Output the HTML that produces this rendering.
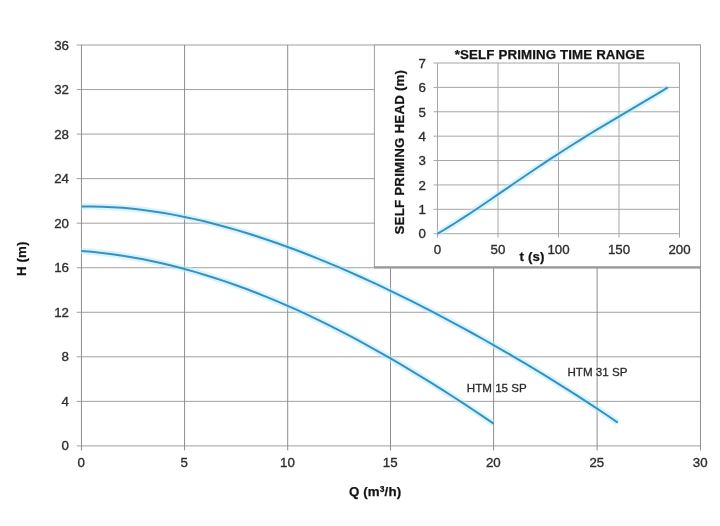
<!DOCTYPE html>
<html lang="en"><head><meta charset="utf-8"><title>Pump curves</title>
<style>html,body{margin:0;padding:0;background:#fff;}body{width:720px;height:526px;overflow:hidden;}svg{display:block;filter:blur(0.45px);}
text{font-family:"Liberation Sans",Arial,sans-serif;fill:#2e2e2e;}
.t{font-size:13.3px;stroke:#2e2e2e;stroke-width:0.35px;} .b{font-size:13.3px;font-weight:bold;letter-spacing:0.13px;fill:#141414;stroke:#141414;stroke-width:0.25px;} .l{font-size:11.6px;fill:#2a2a2a;stroke:#2a2a2a;stroke-width:0.3px;}
.g{stroke:#8e8e8e;stroke-width:1;fill:none;} .halo{stroke:#b8ecff;stroke-opacity:0.55;stroke-width:6.5;fill:none;stroke-linejoin:round;} .c{stroke:#3890c0;stroke-width:2.0;fill:none;stroke-linecap:butt;stroke-linejoin:round;}
</style></head><body>
<svg width="720" height="526" viewBox="0 0 720 526">
<rect x="0" y="0" width="720" height="526" fill="#ffffff"/>
<path class="g" style="stroke:#a0a0a0" d="M76.65 445.90H700.45M76.65 401.36H700.45M76.65 356.81H700.45M76.65 312.27H700.45M76.65 267.72H700.45M76.65 223.18H700.45M76.65 178.64H700.45M76.65 134.09H700.45M76.65 89.55H700.45M76.65 45.00H700.45"/>
<path class="g" d="M81.45 45.00V450.40M184.55 45.00V450.40M287.70 45.00V450.40M390.50 45.00V450.40M493.60 45.00V450.40M597.10 45.00V450.40M700.45 45.00V450.40"/>
<text class="t" x="69.0" y="450.3" text-anchor="end">0</text>
<text class="t" x="69.0" y="405.8" text-anchor="end">4</text>
<text class="t" x="69.0" y="361.3" text-anchor="end">8</text>
<text class="t" x="69.0" y="316.7" text-anchor="end">12</text>
<text class="t" x="69.0" y="272.2" text-anchor="end">16</text>
<text class="t" x="69.0" y="227.6" text-anchor="end">20</text>
<text class="t" x="69.0" y="183.1" text-anchor="end">24</text>
<text class="t" x="69.0" y="138.5" text-anchor="end">28</text>
<text class="t" x="69.0" y="94.0" text-anchor="end">32</text>
<text class="t" x="69.0" y="49.5" text-anchor="end">36</text>
<text class="t" x="81.2" y="466.6" text-anchor="middle">0</text>
<text class="t" x="184.2" y="466.6" text-anchor="middle">5</text>
<text class="t" x="287.4" y="466.6" text-anchor="middle">10</text>
<text class="t" x="390.2" y="466.6" text-anchor="middle">15</text>
<text class="t" x="493.3" y="466.6" text-anchor="middle">20</text>
<text class="t" x="596.8" y="466.6" text-anchor="middle">25</text>
<text class="t" x="700.2" y="466.6" text-anchor="middle">30</text>
<path class="halo" d="M81.45 206.58L91.76 206.51L102.07 206.71L112.38 207.16L122.69 207.87L133.00 208.82L143.31 210.00L153.62 211.41L163.93 213.03L174.24 214.87L184.55 216.91L194.87 219.14L205.18 221.56L215.50 224.17L225.81 226.95L236.12 229.89L246.44 233.00L256.75 236.27L267.07 239.69L277.38 243.25L287.70 246.96L297.98 250.80L308.26 254.78L318.54 258.88L328.82 263.10L339.10 267.45L349.38 271.91L359.66 276.48L369.94 281.16L380.22 285.95L390.50 290.85L400.81 295.84L411.12 300.94L421.43 306.13L431.74 311.42L442.05 316.80L452.36 322.27L462.67 327.84L472.98 333.50L483.29 339.25L493.60 345.10L503.95 351.03L514.30 357.05L524.65 363.17L535.00 369.38L545.35 375.68L555.70 382.08L566.05 388.57L576.40 395.16L586.75 401.85L597.10 408.65L607.44 415.54L617.77 422.55M81.45 250.95L91.76 251.82L102.07 252.91L112.38 254.21L122.69 255.72L133.00 257.43L143.31 259.35L153.62 261.47L163.93 263.79L174.24 266.30L184.55 269.00L194.87 271.89L205.18 274.96L215.50 278.22L225.81 281.65L236.12 285.26L246.44 289.05L256.75 293.00L267.07 297.12L277.38 301.40L287.70 305.84L297.98 310.44L308.26 315.20L318.54 320.10L328.82 325.16L339.10 330.36L349.38 335.70L359.66 341.18L369.94 346.79L380.22 352.54L390.50 358.42L400.81 364.43L411.12 370.56L421.43 376.81L431.74 383.17L442.05 389.65L452.36 396.25L462.67 402.95L472.98 409.75L483.29 416.66L493.60 423.67"/>
<path class="c" d="M81.45 206.58L91.76 206.51L102.07 206.71L112.38 207.16L122.69 207.87L133.00 208.82L143.31 210.00L153.62 211.41L163.93 213.03L174.24 214.87L184.55 216.91L194.87 219.14L205.18 221.56L215.50 224.17L225.81 226.95L236.12 229.89L246.44 233.00L256.75 236.27L267.07 239.69L277.38 243.25L287.70 246.96L297.98 250.80L308.26 254.78L318.54 258.88L328.82 263.10L339.10 267.45L349.38 271.91L359.66 276.48L369.94 281.16L380.22 285.95L390.50 290.85L400.81 295.84L411.12 300.94L421.43 306.13L431.74 311.42L442.05 316.80L452.36 322.27L462.67 327.84L472.98 333.50L483.29 339.25L493.60 345.10L503.95 351.03L514.30 357.05L524.65 363.17L535.00 369.38L545.35 375.68L555.70 382.08L566.05 388.57L576.40 395.16L586.75 401.85L597.10 408.65L607.44 415.54L617.77 422.55M81.45 250.95L91.76 251.82L102.07 252.91L112.38 254.21L122.69 255.72L133.00 257.43L143.31 259.35L153.62 261.47L163.93 263.79L174.24 266.30L184.55 269.00L194.87 271.89L205.18 274.96L215.50 278.22L225.81 281.65L236.12 285.26L246.44 289.05L256.75 293.00L267.07 297.12L277.38 301.40L287.70 305.84L297.98 310.44L308.26 315.20L318.54 320.10L328.82 325.16L339.10 330.36L349.38 335.70L359.66 341.18L369.94 346.79L380.22 352.54L390.50 358.42L400.81 364.43L411.12 370.56L421.43 376.81L431.74 383.17L442.05 389.65L452.36 396.25L462.67 402.95L472.98 409.75L483.29 416.66L493.60 423.67"/>
<text class="l" x="567.5" y="376.1">HTM 31 SP</text>
<text class="l" x="466.8" y="392.1">HTM 15 SP</text>
<text class="b" x="375.1" y="496.3" text-anchor="middle">Q (m<tspan font-size="8.5" dy="-4.5">3</tspan><tspan dy="4.5">/h)</tspan></text>
<text class="b" transform="translate(26.4 258.8) rotate(-90)" text-anchor="middle">H (m)</text>
<rect x="374.4" y="45" width="326.05" height="222.3" fill="#ffffff" stroke="#a0a0a0" stroke-width="1"/>
<path d="M373.9 267.3H700.95" stroke="#9a9a9a" stroke-width="2.2" fill="none"/>
<path class="g" style="stroke:#a6a6a6" d="M433.50 233.70H679.50M433.50 209.31H679.50M433.50 184.93H679.50M433.50 160.54H679.50M433.50 136.16H679.50M433.50 111.77H679.50M433.50 87.38H679.50M433.50 63.00H679.50M437.50 63.00V237.70M498.00 63.00V237.70M558.50 63.00V237.70M619.00 63.00V237.70M679.50 63.00V237.70"/>
<text class="t" x="426.0" y="238.4" text-anchor="end">0</text>
<text class="t" x="426.0" y="214.0" text-anchor="end">1</text>
<text class="t" x="426.0" y="189.6" text-anchor="end">2</text>
<text class="t" x="426.0" y="165.2" text-anchor="end">3</text>
<text class="t" x="426.0" y="140.9" text-anchor="end">4</text>
<text class="t" x="426.0" y="116.5" text-anchor="end">5</text>
<text class="t" x="426.0" y="92.1" text-anchor="end">6</text>
<text class="t" x="426.0" y="67.7" text-anchor="end">7</text>
<text class="t" x="437.5" y="254.0" text-anchor="middle">0</text>
<text class="t" x="498.0" y="254.0" text-anchor="middle">50</text>
<text class="t" x="558.5" y="254.0" text-anchor="middle">100</text>
<text class="t" x="619.0" y="254.0" text-anchor="middle">150</text>
<text class="t" x="679.5" y="254.0" text-anchor="middle">200</text>
<path class="halo" d="M437.50 233.70L443.40 230.24L449.31 226.66L455.21 222.98L461.12 219.21L467.02 215.37L472.93 211.46L478.83 207.50L484.73 203.51L490.64 199.48L496.54 195.44L502.45 191.39L508.35 187.33L514.25 183.28L520.16 179.24L526.06 175.23L531.97 171.23L537.87 167.26L543.78 163.33L549.68 159.43L555.58 155.57L561.49 151.75L567.39 147.97L573.30 144.23L579.20 140.54L585.10 136.88L591.01 133.26L596.91 129.67L602.82 126.12L608.72 122.59L614.63 119.09L620.53 115.60L626.43 112.13L632.34 108.66L638.24 105.18L644.15 101.69L650.05 98.18L655.95 94.65L661.86 91.06L667.76 87.43"/>
<path class="c" d="M437.50 233.70L443.40 230.24L449.31 226.66L455.21 222.98L461.12 219.21L467.02 215.37L472.93 211.46L478.83 207.50L484.73 203.51L490.64 199.48L496.54 195.44L502.45 191.39L508.35 187.33L514.25 183.28L520.16 179.24L526.06 175.23L531.97 171.23L537.87 167.26L543.78 163.33L549.68 159.43L555.58 155.57L561.49 151.75L567.39 147.97L573.30 144.23L579.20 140.54L585.10 136.88L591.01 133.26L596.91 129.67L602.82 126.12L608.72 122.59L614.63 119.09L620.53 115.60L626.43 112.13L632.34 108.66L638.24 105.18L644.15 101.69L650.05 98.18L655.95 94.65L661.86 91.06L667.76 87.43"/>
<text class="b" x="549.8" y="58.7" text-anchor="middle">*SELF PRIMING TIME RANGE</text>
<text class="b" transform="translate(403.5 152.1) rotate(-90)" style="letter-spacing:0.21px" text-anchor="middle">SELF PRIMING HEAD (m)</text>
<text class="b" x="532.1" y="260.8" text-anchor="middle">t (s)</text>
</svg></body></html>
